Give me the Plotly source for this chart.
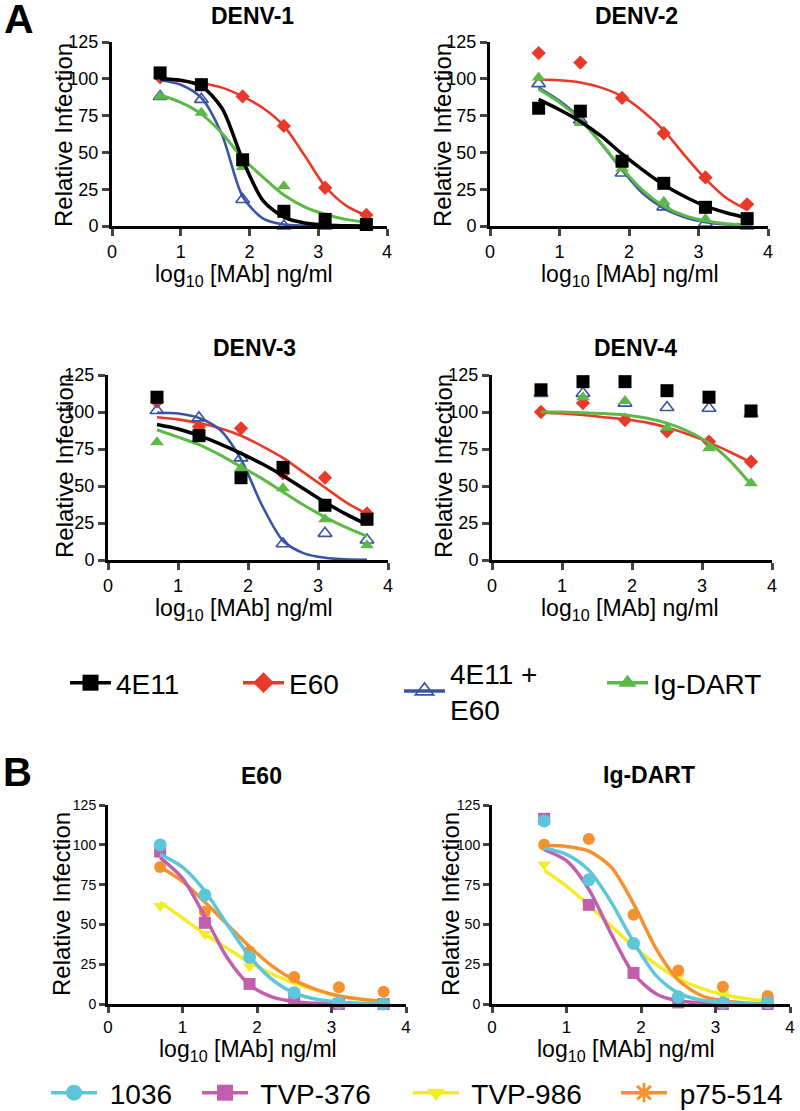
import plotly.graph_objects as go

W, H = 800, 1111
FONT = "Liberation Sans, Arial, Helvetica, sans-serif"

# x positions (log10 ng/ml) of the measured points and of the read-off fit curves
X_PTS = [0.7, 1.3, 1.9, 2.5, 3.1, 3.7]
X_FIT = [0.7, 1.0, 1.3, 1.6, 1.9, 2.2, 2.5, 2.8, 3.1, 3.4, 3.7]
Y_TICKS = [0, 25, 50, 75, 100, 125]
X_TICKS = [0, 1, 2, 3, 4]

# ---- panel A: DENV-1..4, series 4E11 / E60 / 4E11+E60 / Ig-DART ----
d1_4e11 = [104, 96, 45, 10, 4.5, 1]
d1_e60 = [101, 96, 88, 68, 26, 7.5]
d1_combo = [88, 86, 18, 0, 0, 0]
d1_dart = [88, 77, 40, 27, 4, 1]
f1_4e11 = [100, 99, 95, 80, 45, 17, 6, 2, 0.6, 0.2, 0]
f1_e60 = [99.5, 98.5, 97, 94, 88, 80, 68, 48, 27, 14, 7]
f1_combo = [99, 96, 87, 62, 20, 5, 1, 0.2, 0, 0, 0]
f1_dart = [89, 84, 76, 63, 46, 33, 21, 13, 8, 4.5, 2.5]

d2_4e11 = [80, 78, 44, 29, 12.7, 5]
d2_e60 = [117.5, 111, 87, 63, 33, 14.7]
d2_combo = [96.7, 72, 36, 13, 2, 0]
d2_dart = [100.8, 70, 39, 16.5, 4.7, 0.5]
f2_4e11 = [86, 79, 71, 61, 49, 38, 28, 20, 13.5, 9, 5.5]
f2_e60 = [99.5, 99, 97.5, 94, 88, 78, 65, 48, 32, 19, 11]
f2_combo = [94, 85, 73, 56, 38, 22, 12, 6, 2.5, 1, 0.5]
f2_dart = [93, 84, 72, 56, 39, 24, 13.5, 7, 3.5, 1.5, 0.7]

d3_4e11 = [110, 84, 55.6, 62.6, 37, 27.5]
d3_e60 = [107, 90, 89, 58.5, 55.6, 31.5]
d3_combo = [101, 96, 69, 11, 18, 13.5]
d3_dart = [79.5, 83, 62, 48.4, 27.5, 10]
f3_4e11 = [91.5, 88.5, 84, 78.5, 72, 65, 57, 48, 39, 31, 24]
f3_e60 = [96.5, 95, 92.5, 89, 84, 77, 69, 59, 49, 39, 31]
f3_combo = [99.5, 99, 96, 88, 68, 37, 13, 4.5, 1.5, 0.4, 0.1]
f3_dart = [88, 83, 78, 71, 63, 55, 46, 37, 29, 22, 16]

d4_4e11 = [115, 120.5, 120.5, 114.4, 110, 100.7]
d4_e60 = [100, 106, 94.6, 87, 80, 66.4]
d4_combo = [112.6, 112.6, 106, 103, 102.5, 99]
d4_dart = [112.6, 110, 107.5, 89.4, 75.5, 51.8]
f4_e60 = [99.5, 99, 98, 96.5, 95, 93, 89.5, 85, 79.5, 73, 66]
f4_dart = [100, 100, 99.5, 99, 98, 96, 92.5, 87, 79, 67, 51]

# ---- panel B: E60 / Ig-DART, strains 1036 / TVP-376 / TVP-986 / p75-514 ----
e_1036 = [99.9, 68.5, 29.3, 7, 0.8, 0]
e_tvp376 = [95.7, 51, 12.6, 2.5, 0, 0]
e_tvp986 = [61.5, 44, 23.5, 8, 2, 0.5]
e_p75 = [86, 58, 33, 17, 10.5, 7.7]
fe_1036 = [94, 86, 71, 50, 30, 15.5, 7, 3, 1.3, 0.5, 0.2]
fe_tvp376 = [92, 79, 55, 29, 12, 4.5, 1.5, 0.5, 0.2, 0, 0]
fe_tvp986 = [64, 54, 44, 35, 26, 19, 13, 8.5, 5, 3, 1.8]
fe_p75 = [86, 77, 64, 50, 36, 24, 15, 9, 5, 3, 1.5]

g_1036 = [115, 78, 38, 4.5, 0.8, 0.8]
g_tvp376 = [116.3, 62.3, 19.5, 1, 0, 0]
g_tvp986 = [87.6, 62, 38, 17, 6, 3]
g_p75 = [100, 103.6, 56, 21, 10.8, 5]
fg_1036 = [98, 94, 84, 64, 39, 18, 7, 2.5, 1, 0.3, 0.1]
fg_tvp376 = [97, 90, 72, 44, 19, 6.5, 2, 0.6, 0.2, 0, 0]
fg_tvp986 = [84, 74, 62, 49, 36, 25, 16, 10, 6, 3.5, 2]
fg_p75 = [99.5, 99, 96, 86, 63, 35, 15, 5.5, 2, 0.7, 0.3]

A_NAMES = ["4E11", "E60", "4E11 +<br>E60", "Ig-DART"]
B_NAMES = ["1036", "TVP-376", "TVP-986", "p75-514"]

# styles
A_STYLE = {
    "4E11": dict(color="#000000", symbol="square", size=13, lw=3.5),
    "E60": dict(color="#e8392b", symbol="diamond", size=11, lw=2.6),
    "4E11 +<br>E60": dict(color="#3a54a4", symbol="triangle-up-open", size=12, lw=2.6),
    "Ig-DART": dict(color="#5cb946", symbol="triangle-up", size=12, lw=3),
}
B_STYLE = {
    "1036": dict(color="#5ec6da", symbol="circle", size=13, lw=3.5),
    "TVP-376": dict(color="#c15fae", symbol="square", size=12, lw=3.5),
    "TVP-986": dict(color="#f3ec2a", symbol="triangle-down", size=12, lw=3.5),
    "p75-514": dict(color="#f5922f", symbol="circle", size=12, lw=3.5),
}

# axis boxes in pixels: (left, right, top, bottom)
BOX = {
    1: (112, 387, 42, 226),
    2: (490, 768, 42, 226),
    3: (108, 388, 375, 560),
    4: (492, 772, 375, 560),
    5: (108, 406, 805, 1004),
    6: (492, 790, 805, 1004),
}

panels = [
    (1, [d1_4e11, d1_e60, d1_combo, d1_dart], [f1_4e11, f1_e60, f1_combo, f1_dart]),
    (2, [d2_4e11, d2_e60, d2_combo, d2_dart], [f2_4e11, f2_e60, f2_combo, f2_dart]),
    (3, [d3_4e11, d3_e60, d3_combo, d3_dart], [f3_4e11, f3_e60, f3_combo, f3_dart]),
    (4, [d4_4e11, d4_e60, d4_combo, d4_dart], [None, f4_e60, None, f4_dart]),
    (5, [e_1036, e_tvp376, e_tvp986, e_p75], [fe_1036, fe_tvp376, fe_tvp986, fe_p75]),
    (6, [g_1036, g_tvp376, g_tvp986, g_p75], [fg_1036, fg_tvp376, fg_tvp986, fg_p75]),
]

# drawing order (back to front)
A_ORDER = [1, 2, 3, 0]
B_ORDER = [2, 3, 1, 0]


def px(x):
    return x / W


def py(y):
    return 1 - y / H


fig = go.Figure()
annotations = []

for idx, pts, fits in panels:
    sfx = "" if idx == 1 else str(idx)
    xa, ya = "x" + sfx, "y" + sfx
    names, styles = (A_NAMES, A_STYLE) if idx <= 4 else (B_NAMES, B_STYLE)
    order = A_ORDER if idx <= 4 else B_ORDER
    for k in order:
        st = styles[names[k]]
        if fits[k] is not None:
            fig.add_trace(go.Scatter(
                x=X_FIT, y=fits[k], mode="lines", xaxis=xa, yaxis=ya,
                line=dict(color=st["color"], width=st["lw"], shape="spline", smoothing=0.8),
                showlegend=False, cliponaxis=False, hoverinfo="skip"))
        fig.add_trace(go.Scatter(
            x=X_PTS, y=pts[k], mode="markers", xaxis=xa, yaxis=ya,
            marker=dict(color=st["color"], symbol=st["symbol"], size=st["size"],
                        line=dict(width=1.6 if "open" in st["symbol"] else 0, color=st["color"])),
            showlegend=False, cliponaxis=False, name=names[k].replace("<br>", " ")))

    l, r, t, b = BOX[idx]
    small_y = idx >= 5
    fig.update_layout({
        "xaxis" + sfx: dict(domain=[px(l), px(r)], range=[0, 4], anchor=ya, automargin=False,
                            tickvals=X_TICKS, ticks="outside", ticklen=6 if small_y else 7, tickwidth=3,
                            showline=True, linewidth=3, linecolor="black", showgrid=False,
                            zeroline=False,
                            tickfont=dict(size=17 if small_y else 18, family=FONT, color="black")),
        "yaxis" + sfx: dict(domain=[py(b), py(t)], range=[0, 125], anchor=xa, automargin=False,
                            tickvals=Y_TICKS, ticks="outside", ticklen=6 if small_y else 7, tickwidth=3,
                            showline=True, linewidth=3, linecolor="black", showgrid=False,
                            zeroline=False,
                            tickfont=dict(size=14 if small_y else 18, family=FONT, color="black")),
    })

# panel titles
TITLES = [("DENV-1", 253, 16), ("DENV-2", 636, 16), ("DENV-3", 254, 348), ("DENV-4", 635, 348),
          ("E60", 261, 776), ("Ig-DART", 649, 775)]
for txt, cx, cy in TITLES:
    annotations.append(dict(text="<b>%s</b>" % txt, x=px(cx), y=py(cy), xref="paper", yref="paper",
                            showarrow=False, xanchor="center", yanchor="middle",
                            font=dict(size=23, family=FONT, color="black")))

# y-axis titles
for cx, cy in [(64, 135), (443, 135), (64, 466), (443, 466), (61, 904), (450, 904)]:
    annotations.append(dict(text="Relative Infection", x=px(cx), y=py(cy), xref="paper", yref="paper",
                            showarrow=False, textangle=-90, xanchor="center", yanchor="middle",
                            font=dict(size=24, family=FONT, color="black")))

# x-axis titles
for cx, cy in [(244, 275), (630, 275), (244, 609), (630, 609), (248, 1050), (626, 1050)]:
    annotations.append(dict(text="log<sub>10</sub> [MAb] ng/ml", x=px(cx), y=py(cy),
                            xref="paper", yref="paper", showarrow=False,
                            xanchor="center", yanchor="middle",
                            font=dict(size=23, family=FONT, color="black")))

# panel letters
annotations.append(dict(text="<b>A</b>", x=px(19), y=py(19), xref="paper", yref="paper", showarrow=False,
                        xanchor="center", yanchor="middle", font=dict(size=41, family=FONT, color="black")))
annotations.append(dict(text="<b>B</b>", x=px(17), y=py(772), xref="paper", yref="paper", showarrow=False,
                        xanchor="center", yanchor="middle", font=dict(size=40, family=FONT, color="black")))

# legends: one legend box per entry so each sits where the reference has it
LEG_A = [(65, 683), (238, 683), (399, 691), (602, 683)]
LEG_B = [(46, 1093), (197, 1093), (408, 1093), (616, 1093)]
legend_layout = {}
n = 1
for names, styles, pos, fsize, iw, pad in [(A_NAMES, A_STYLE, LEG_A, 28, 41, ""),
                                           (B_NAMES, B_STYLE, LEG_B, 28, 46, " ")]:
    for name, (lx, ly) in zip(names, pos):
        key = "legend" if n == 1 else "legend%d" % n
        st = styles[name]
        sym = st["symbol"]
        if name == "p75-514":
            sym = "asterisk-open"
        fig.add_trace(go.Scatter(
            x=[None], y=[None], mode="lines+markers", name=pad + name, legend=key,
            line=dict(color=st["color"], width=3.5),
            marker=dict(color=st["color"], symbol=sym, size=16,
                        line=dict(width=3 if sym == "asterisk-open" else (1.6 if "open" in sym else 0),
                                  color=st["color"])),
            showlegend=True))
        legend_layout[key] = dict(x=px(lx), y=py(ly), xanchor="left", yanchor="middle",
                                  bgcolor="rgba(0,0,0,0)", borderwidth=0, valign="middle",
                                  itemwidth=iw, itemclick=False, itemdoubleclick=False,
                                  font=dict(size=fsize, family=FONT, color="black"))
        n += 1

fig.update_layout(
    template="none",
    width=W, height=H,
    margin=dict(l=0, r=0, t=0, b=0, autoexpand=False),
    paper_bgcolor="white", plot_bgcolor="white",
    font=dict(family=FONT, color="black"),
    annotations=annotations,
    **legend_layout,
)

# page body margin would offset the figure by 8px
fig.write_html("out.html", config={"displayModeBar": False},
               post_script="document.body.style.margin = '0';")
